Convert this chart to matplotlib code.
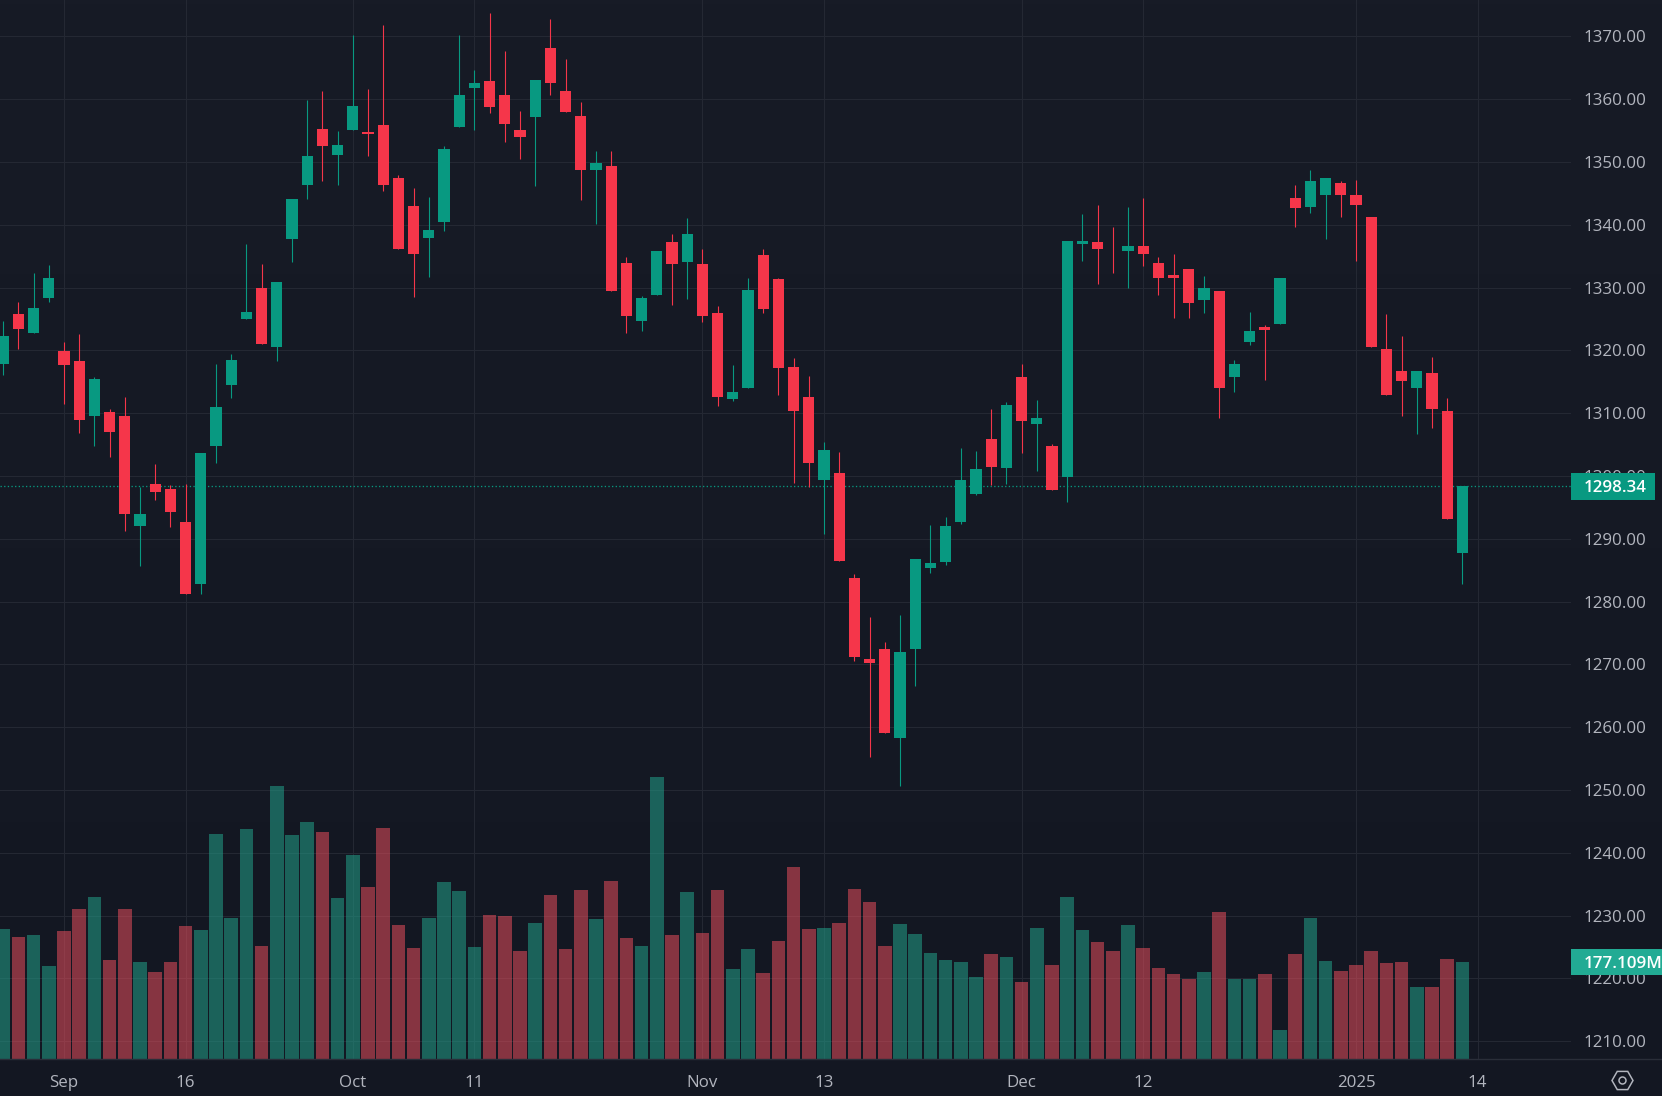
import numpy as np
import matplotlib
matplotlib.use("Agg")
import matplotlib.pyplot as plt
from matplotlib.patches import Rectangle
from matplotlib.lines import Line2D

W, H = 1662, 1096
PLOT_R, PLOT_B = 1571.3, 1059.3

opens = [1317.8,1325.8,1322.8,1328.3,1319.9,1318.3,1309.5,1310.2,1309.5,1292.0,1298.8,1297.9,1292.7,1282.8,1304.8,1314.5,1325.0,1329.9,1320.5,1337.8,
 1346.3,1355.3,1351.1,1355.1,1354.8,1355.9,1347.5,1343.0,1337.9,1340.5,1355.6,1361.8,1362.9,1360.7,1355.1,1357.2,1368.2,1361.3,1357.4,1348.8,
 1349.3,1333.9,1324.7,1328.8,1337.2,1334.0,1333.7,1325.9,1312.3,1314.0,1335.2,1331.3,1317.4,1312.6,1299.4,1300.5,1283.8,1270.8,1272.4,1258.3,
 1272.4,1285.4,1286.3,1292.7,1297.1,1305.9,1301.3,1315.8,1308.3,1304.8,1299.9,1336.9,1337.2,1335.9,1335.8,1336.6,1333.9,1332.0,1332.9,1328.0,
 1329.4,1315.8,1321.3,1323.7,1324.2,1344.2,1342.8,1344.8,1346.7,1344.8,1341.2,1320.2,1316.7,1314.0,1316.4,1310.4,1287.7]
closes = [1322.3,1323.4,1326.7,1331.5,1317.7,1308.9,1315.4,1307.0,1293.9,1293.9,1297.5,1294.2,1281.2,1303.6,1311.0,1318.5,1326.1,1321.0,1330.9,1344.1,
 1350.9,1352.6,1352.7,1358.9,1354.4,1346.3,1336.1,1335.4,1339.1,1352.1,1360.7,1362.6,1358.7,1356.0,1354.0,1363.1,1362.6,1358.0,1348.8,1349.8,
 1329.4,1325.4,1328.3,1335.8,1333.7,1338.6,1325.4,1312.6,1313.4,1329.6,1326.6,1317.2,1310.3,1302.0,1304.2,1286.5,1271.2,1270.2,1259.1,1271.9,
 1286.8,1286.1,1292.1,1299.3,1301.1,1301.5,1311.3,1308.8,1309.3,1297.8,1337.5,1337.4,1336.1,1335.8,1336.6,1335.4,1331.5,1331.6,1327.5,1329.9,
 1314.0,1317.8,1323.1,1323.2,1331.6,1342.6,1346.9,1347.4,1344.7,1343.1,1320.5,1312.9,1315.1,1316.7,1310.7,1293.2,1298.34]
highs = [1324.7,1327.7,1332.3,1333.6,1321.3,1322.6,1315.8,1310.7,1312.6,1298.3,1301.9,1298.5,1298.8,1303.6,1317.8,1319.4,1336.9,1333.7,1330.9,1344.1,
 1359.9,1361.3,1355.0,1370.2,1361.6,1371.8,1348.0,1345.9,1344.4,1352.6,1370.2,1364.6,1373.7,1367.7,1358.1,1363.1,1372.8,1366.4,1359.5,1351.7,
 1351.7,1334.8,1328.6,1335.8,1338.5,1341.1,1336.1,1327.1,1317.7,1331.5,1336.2,1331.5,1318.8,1316.0,1305.4,1303.9,1284.4,1277.6,1273.6,1277.8,
 1286.8,1292.2,1293.4,1304.4,1304.0,1310.6,1311.8,1317.8,1312.1,1305.1,1337.5,1341.7,1343.1,1339.7,1342.8,1344.3,1334.8,1335.4,1332.9,1331.8,
 1329.4,1318.5,1326.1,1324.0,1331.6,1346.4,1348.8,1347.4,1347.0,1347.2,1341.3,1325.8,1322.3,1316.7,1318.9,1312.4,1298.34]
lows = [1316.1,1320.2,1322.8,1327.7,1311.4,1306.8,1304.8,1303.0,1291.2,1285.7,1296.1,1291.9,1281.2,1281.2,1302.1,1312.4,1325.0,1321.0,1318.3,1334.0,
 1344.1,1347.0,1346.3,1355.1,1350.9,1345.4,1336.1,1328.5,1331.7,1339.0,1355.6,1355.1,1357.8,1353.2,1350.5,1346.2,1360.7,1358.0,1344.0,1340.2,
 1329.4,1322.8,1323.1,1328.8,1327.2,1328.2,1324.5,1311.2,1312.0,1314.0,1326.0,1312.9,1298.9,1298.2,1290.7,1286.5,1270.6,1255.3,1259.1,1250.7,
 1266.6,1284.6,1285.8,1292.4,1297.0,1298.6,1298.8,1303.6,1300.8,1297.7,1295.9,1334.3,1330.5,1332.4,1329.9,1333.5,1328.9,1325.1,1325.1,1325.9,
 1309.3,1313.4,1320.8,1315.3,1324.2,1339.6,1341.8,1337.8,1341.2,1334.3,1320.5,1312.9,1309.6,1306.7,1307.7,1293.2,1282.8]
volumes_m = [237.1,222.6,226.2,169.8,233.5,273.5,295.4,180.7,273.5,177.1,158.9,177.1,242.6,235.3,410.0,257.2,419.1,206.2,497.3,408.2,
 431.8,413.6,293.5,371.8,313.6,420.9,244.4,202.6,257.2,322.7,306.3,204.4,262.6,260.8,197.1,248.1,299.0,200.8,308.1,255.3,
 324.5,220.8,206.2,513.7,226.2,304.5,229.9,308.1,164.4,200.8,157.1,215.3,349.9,237.1,239.0,248.1,309.9,286.3,206.2,246.2,
 228.0,193.5,180.7,177.1,149.8,191.7,186.2,140.7,239.0,171.6,295.4,235.3,213.5,197.1,244.4,202.6,166.2,155.3,146.2,158.9,
 268.1,146.2,146.2,155.3,53.4,191.7,257.2,178.9,160.7,171.6,197.1,175.3,177.1,131.6,131.6,182.6,177.109]

price_ticks = list(range(1210, 1380, 10))
date_positions = [4, 12, 23, 31, 46, 54, 67, 75, 89, 97]
date_labels = ["Sep", "16", "Oct", "11", "Nov", "13", "Dec", "12", "2025", "14"]
last_price = 1298.34
last_volume = 177.109

BG_TOP, BG_BOT = "#171b26", "#131722"
GRID = "#242833"
UP, DOWN = "#089981", "#f5364a"
VOL_UP, VOL_DOWN = "#22a08a", "#e64d5c"
TXT = "#b2b5be"
FONT = "Open Sans"
FS = 12.2

plt.rcParams["font.family"] = [FONT, "DejaVu Sans"]
px = 0.72  # points per pixel at dpi=100

fig = plt.figure(figsize=(W / 100, H / 100), dpi=100)

# background gradient
bg = fig.add_axes([0, 0, 1, 1], zorder=-5)
c0 = np.array(matplotlib.colors.to_rgb(BG_TOP))
c1 = np.array(matplotlib.colors.to_rgb(BG_BOT))
t = np.linspace(0, 1, 256)[:, None, None]
bg.imshow(c0[None, None, :] * (1 - t) + c1[None, None, :] * t, aspect="auto", extent=[0, 1, 0, 1])
bg.axis("off")

rect = [0, (H - PLOT_B) / H, PLOT_R / W, PLOT_B / H]

# three stacked layers: grid and labels, volume, candles
ax = fig.add_axes(rect, zorder=0)
ax.patch.set_alpha(0)
vax = fig.add_axes(rect, zorder=0.5, sharex=ax)
vax.patch.set_alpha(0)
cax = fig.add_axes(rect, zorder=1, sharex=ax, sharey=ax)
cax.patch.set_alpha(0)

opens, closes, highs, lows = map(np.array, (opens, closes, highs, lows))
x = np.arange(len(opens))
up = closes >= opens

# x: index i sits at pixel 3.2 + 15.2 i
ax.set_xlim(-3.2 / 15.2, (PLOT_R - 3.2) / 15.2)
# y: 1370 at pixel 36.4, 6.28 px per unit
ax.set_ylim(1370 - (PLOT_B - 36.4) / 6.28, 1370 + 36.4 / 6.28)

ax.set_yticks(price_ticks)
ax.set_yticklabels([f"{p:.2f}" for p in price_ticks])
ax.set_xticks(date_positions)
ax.set_xticklabels(date_labels)
ax.yaxis.tick_right()
ax.tick_params(axis="y", length=0, pad=8.4, labelsize=FS, labelcolor=TXT)
ax.tick_params(axis="x", length=0, pad=11.6, labelsize=FS, labelcolor=TXT)
ax.grid(True, color=GRID, lw=1 * px, zorder=0)
ax.set_axisbelow(True)
for s in ax.spines.values():
    s.set_visible(False)

vax.set_ylim(0, PLOT_B * 1.8195)
vax.axis("off")
vax.bar(x, volumes_m, width=0.9, color=np.where(up, VOL_UP, VOL_DOWN).tolist(), alpha=0.55, linewidth=0, zorder=1)

cax.axis("off")
# price line behind the candles
cax.axhline(last_price, color=UP, lw=1.3 * px, ls=(0, (1, 1.8)), zorder=1)

# candles
colors = np.where(up, UP, DOWN).tolist()
cax.vlines(x, lows, highs, colors=colors, lw=1.1 * px, zorder=2)
cax.bar(x, np.abs(closes - opens), bottom=np.minimum(opens, closes), width=0.728,
        color=colors, linewidth=0, zorder=3)


def fx(v):
    return v / W


def fy(v):
    return 1 - v / H


# separator under the plot
fig.add_artist(Line2D([0, 1], [fy(PLOT_B)] * 2, color="#2a2e39", lw=1.4 * px, zorder=4))

# last-value badges
y_price = 36.4 + (1370 - last_price) * 6.28
fig.add_artist(Rectangle((fx(PLOT_R), fy(y_price + 13.2)), fx(1654.7 - PLOT_R), 26.4 / H,
                         color=UP, lw=0, zorder=5, transform=fig.transFigure))
fig.text(fx(1583.4), fy(y_price), f"{last_price:.2f}", color="white", fontsize=FS, fontweight="semibold",
         va="center_baseline", ha="left", zorder=6)
y_vol = PLOT_B - last_volume / 1.8195
fig.add_artist(Rectangle((fx(PLOT_R), fy(y_vol + 13.4)), fx(W - PLOT_R), 26.8 / H,
                         color="#22ab94", lw=0, zorder=5, transform=fig.transFigure))
fig.text(fx(1583.4), fy(y_vol), f"{last_volume:.3f}M", color="white", fontsize=FS, fontweight="semibold",
         va="center_baseline", ha="left", zorder=6)

# settings icon
fig.add_artist(Line2D([fx(1622)], [fy(1080)], marker="H", ms=21 * px, mfc="none", mec=TXT, mew=1.5 * px, zorder=6))
fig.add_artist(Line2D([fx(1622)], [fy(1080)], marker="o", ms=7 * px, mfc="none", mec=TXT, mew=1.5 * px, zorder=6))

fig.savefig("out.png", dpi=100, facecolor=BG_BOT)
